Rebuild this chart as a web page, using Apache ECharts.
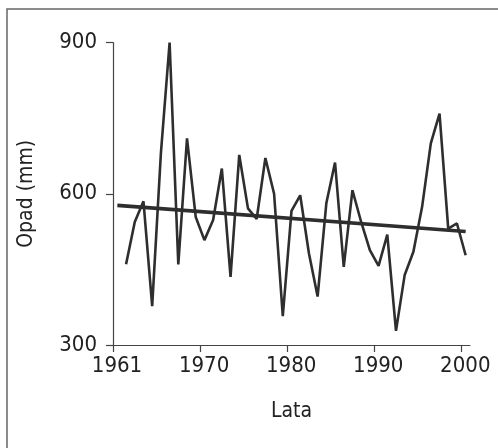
<!DOCTYPE html>
<html>
<head>
<meta charset="utf-8">
<script src="https://cdn.jsdelivr.net/npm/echarts@6/dist/echarts.min.js"></script>
<style>html,body{margin:0;padding:0;background:#fff}#c{width:498px;height:448px}</style>
</head>
<body>
<div id="c"></div>
<script>
const years = [1961,1962,1963,1964,1965,1966,1967,1968,1969,1970,
  1971,1972,1973,1974,1975,1976,1977,1978,1979,1980,
  1981,1982,1983,1984,1985,1986,1987,1988,1989,1990,
  1991,1992,1993,1994,1995,1996,1997,1998,1999,2000];
const precip = [460,544,585,377,680,900,460,710,554,508,
  548,650,435,677,571,550,671,600,357,566,
  597,482,396,581,662,455,607,544,488,457,
  519,328,439,485,574,700,759,531,541,478];
const trendYears = [1960, 2000];
const trendValues = [577, 525];
const xTickLabels = ['1961','1970','1980','1990','2000'];
const xTickValues = [1959.5,1969.5,1979.5,1989.5,1999.5];

const FONT = '"DejaVu Sans Condensed","Liberation Sans Narrow",sans-serif';
const INK = '#2e2e2e';
const chart = echarts.init(document.getElementById('c'), null, {renderer:'canvas'});
chart.setOption({
  animation:false,
  backgroundColor:'#fff',
  grid:{left:113,right:28,top:42.5,bottom:103,containLabel:false},
  xAxis:{
    type:'value', min:1959.5, max:2000.5,
    name:'Lata', nameLocation:'middle', nameGap:56,
    nameTextStyle:{fontFamily:FONT,fontSize:21,color:'#222'},
    axisLine:{show:true,lineStyle:{color:'#444',width:1.2}},
    axisTick:{show:true,length:7,customValues:xTickValues,lineStyle:{color:'#444',width:1.2}},
    axisLabel:{customValues:xTickValues,margin:10,fontFamily:FONT,fontSize:22,color:'#222',
      padding:[0,0,0,8],
      formatter:function(v){const i=xTickValues.indexOf(v);return i>=0?xTickLabels[i]:'';}},
    splitLine:{show:false}
  },
  yAxis:{
    type:'value', min:300, max:900, interval:300,
    name:'Opad (mm)', nameLocation:'middle', nameGap:76,
    nameTextStyle:{fontFamily:FONT,fontSize:21,color:'#222'},
    axisLine:{show:true,lineStyle:{color:'#444',width:1.2}},
    axisTick:{show:true,length:7,lineStyle:{color:'#444',width:1.2}},
    axisLabel:{margin:16,fontFamily:FONT,fontSize:22,color:'#222'},
    splitLine:{show:false}
  },
  graphic:[
    {type:'polyline',shape:{points:[[7,448],[7,9],[498,9]]},style:{stroke:'#666',lineWidth:1.5,fill:null}}
  ],
  series:[
    {type:'line',data:years.map((y,i)=>[y,precip[i]]),symbol:'none',
     lineStyle:{color:INK,width:2.6},z:3},
    {type:'line',data:trendYears.map((y,i)=>[y,trendValues[i]]),symbol:'none',
     lineStyle:{color:INK,width:3.6},z:2}
  ]
});
</script>
</body>
</html>
